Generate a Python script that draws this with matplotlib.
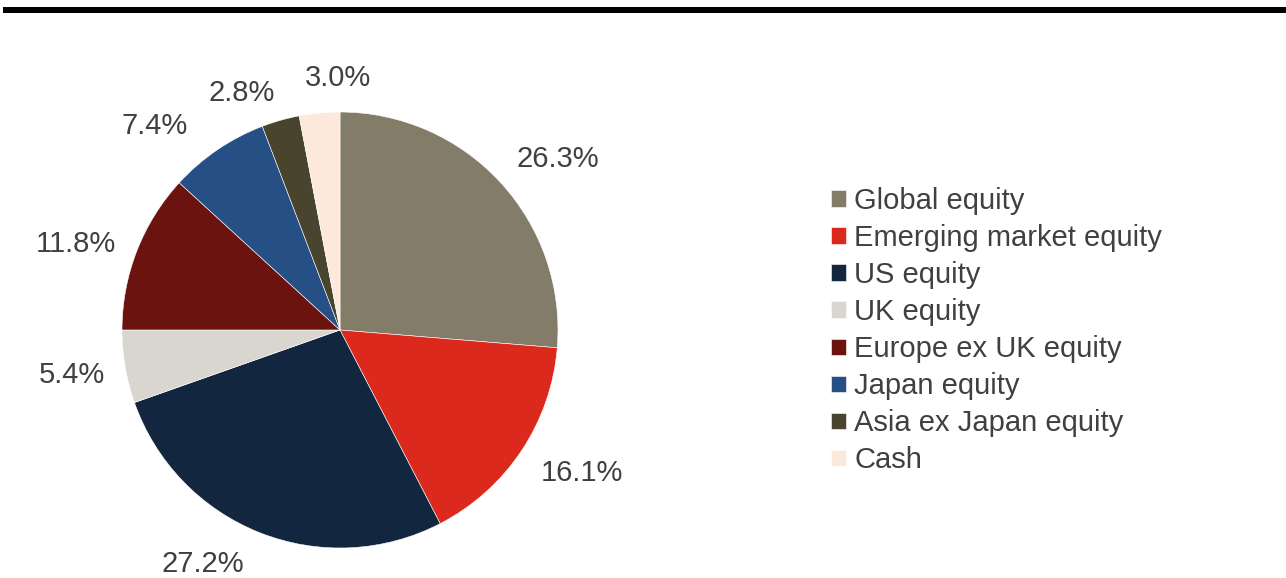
import matplotlib.pyplot as plt
from matplotlib.patches import Rectangle

plt.rcParams['font.family'] = ['Liberation Sans', 'DejaVu Sans']

labels = ["Global equity", "Emerging market equity", "US equity", "UK equity",
          "Europe ex UK equity", "Japan equity", "Asia ex Japan equity", "Cash"]
values = [26.3, 16.1, 27.2, 5.4, 11.8, 7.4, 2.8, 3.0]
colors = ["#837C68", "#DB291D", "#13263F", "#D9D6CF", "#6B140F", "#264F86", "#49442E", "#FDE9DC"]

# where the percentage labels sit, in units of the pie radius (Excel-style placement)
label_pos = [(1.00, 0.785), (1.11, -0.655), (-0.63, -1.075), (-1.23, -0.205),
             (-1.21, 0.395), (-0.85, 0.935), (-0.45, 1.085), (-0.01, 1.155)]

text_color = "#404040"

fig = plt.figure(figsize=(12.86, 5.78), dpi=100)

# black rule across the top
fig.add_artist(Rectangle((3 / 1286, 1 - 13 / 578), 1, 6 / 578, transform=fig.transFigure,
                         facecolor="black", edgecolor="none"))

# pie centred at (340, 330) px, radius 218 px
ax = fig.add_axes([(340 - 218) / 1286, (248 - 218) / 578, 436 / 1286, 436 / 578])
wedges, _, autotexts = ax.pie(values, colors=colors, startangle=90, counterclock=False,
                              autopct="%.1f%%", pctdistance=1.25,
                              wedgeprops=dict(edgecolor="white", linewidth=0.4),
                              textprops=dict(fontsize=21, color=text_color))
for t, p in zip(autotexts, label_pos):
    t.set_position(p)
ax.set_xlim(-1, 1)
ax.set_ylim(-1, 1)
ax.set_aspect("equal")
ax.axis("off")

fig.legend(wedges, labels, loc="upper left", bbox_to_anchor=(831 / 1286, 1 - 187 / 578),
           frameon=False, fontsize=21, labelcolor=text_color,
           handlelength=0.5, handleheight=0.5, handletextpad=0.3,
           labelspacing=0.31, borderpad=0, borderaxespad=0)

fig.savefig("out.png", dpi=100)
